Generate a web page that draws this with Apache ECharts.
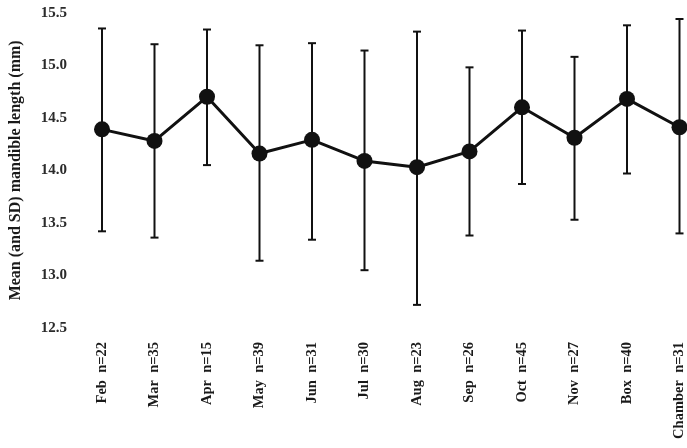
<!DOCTYPE html>
<html>
<head>
<meta charset="utf-8">
<script src="https://cdn.jsdelivr.net/npm/echarts@6/dist/echarts.min.js"></script>
<style>
html,body{margin:0;padding:0;background:#fff;}
#chart{width:687px;height:448px;}
</style>
</head>
<body>
<div id="chart"></div>
<script>
var categories = ['Feb  n=22','Mar  n=35','Apr  n=15','May  n=39','Jun  n=31','Jul  n=30','Aug  n=23','Sep  n=26','Oct  n=45','Nov  n=27','Box  n=40','Chamber  n=31'];
var means = [14.39, 14.28, 14.70, 14.16, 14.29, 14.09, 14.03, 14.18, 14.60, 14.31, 14.68, 14.41];
var upper = [15.35, 15.20, 15.34, 15.19, 15.21, 15.14, 15.32, 14.98, 15.33, 15.08, 15.38, 15.44];
var lower = [13.42, 13.36, 14.05, 13.14, 13.34, 13.05, 12.72, 13.38, 13.87, 13.53, 13.97, 13.40];
var yTicks = ['12.5','13.0','13.5','14.0','14.5','15.0','15.5'];

var errData = categories.map(function (c, i) { return [i, lower[i], upper[i]]; });
var font = '"Liberation Serif", "Times New Roman", serif';

var chart = echarts.init(document.getElementById('chart'));
chart.setOption({
  animation: false,
  backgroundColor: '#ffffff',
  grid: { left: 102, right: 4, top: 12.7, bottom: 120, containLabel: false },
  xAxis: {
    type: 'category',
    data: categories,
    boundaryGap: false,
    axisLine: { show: false },
    axisTick: { show: false },
    splitLine: { show: false },
    axisLabel: {
      rotate: 90, margin: 14, interval: 0,
      fontFamily: font, fontWeight: 'bold', fontSize: 14.5, color: '#1a1a1a'
    }
  },
  yAxis: {
    type: 'value',
    min: 12.5, max: 15.5, interval: 0.5,
    name: 'Mean (and SD) mandible length (mm)',
    nameLocation: 'middle',
    nameGap: 78,
    nameTextStyle: { fontFamily: font, fontWeight: 'bold', fontSize: 16, color: '#1a1a1a' },
    axisLine: { show: false },
    axisTick: { show: false },
    splitLine: { show: false },
    axisLabel: {
      margin: 35,
      fontFamily: font, fontWeight: 'bold', fontSize: 15, color: '#2a2a2a',
      formatter: function (v) {
        var s = v.toFixed(1);
        return yTicks.indexOf(s) >= 0 ? s : '';
      }
    }
  },
  series: [
    {
      type: 'custom',
      clip: false,
      z: 1,
      data: errData,
      renderItem: function (params, api) {
        var x = api.value(0);
        var lo = api.coord([x, api.value(1)]);
        var hi = api.coord([x, api.value(2)]);
        var hw = 4;
        var st = { stroke: '#111', lineWidth: 2 };
        return {
          type: 'group',
          children: [
            { type: 'line', shape: { x1: lo[0], y1: lo[1], x2: hi[0], y2: hi[1] }, style: st },
            { type: 'line', shape: { x1: lo[0] - hw, y1: lo[1], x2: lo[0] + hw, y2: lo[1] }, style: st },
            { type: 'line', shape: { x1: hi[0] - hw, y1: hi[1], x2: hi[0] + hw, y2: hi[1] }, style: st }
          ]
        };
      }
    },
    {
      type: 'line',
      z: 3,
      data: means,
      symbol: 'circle',
      symbolSize: 16,
      lineStyle: { color: '#111', width: 3 },
      itemStyle: { color: '#111' }
    }
  ]
});
</script>
</body>
</html>
